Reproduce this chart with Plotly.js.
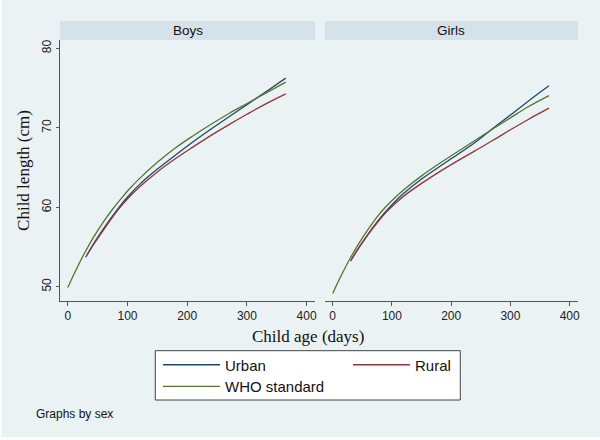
<!DOCTYPE html>
<html>
<head>
<meta charset="utf-8">
<script src="https://cdn.plot.ly/plotly-3.0.1.min.js"></script>
<style>html,body{margin:0;padding:0;background:#fff;}#chart{width:600px;height:440px;}</style>
</head>
<body>
<div id="chart"></div>
<script>
// ---- data ----
const whoAge      = [0, 15, 30, 45, 60, 75, 90, 105, 120, 150, 180, 210, 240, 270, 300, 330, 365];
const boysWHO     = [49.9, 52.3, 54.5, 56.45, 58.2, 59.75, 61.15, 62.45, 63.6, 65.65, 67.45, 69.0, 70.45, 71.8, 73.05, 74.3, 75.74];
const girlsWHO    = [49.15, 51.5, 53.65, 55.55, 57.25, 58.8, 60.1, 61.2, 62.2, 63.95, 65.5, 66.95, 68.4, 69.85, 71.25, 72.65, 74.05];

const boysUrbanAge  = [30, 45, 60, 75, 90, 105, 120, 150, 180, 210, 240, 270, 300, 330, 365];
const boysUrban     = [53.7, 55.6, 57.3, 58.9, 60.4, 61.7, 62.85, 64.8, 66.55, 68.25, 69.85, 71.4, 72.9, 74.45, 76.25];
const boysRuralAge  = [33, 45, 60, 75, 90, 105, 120, 150, 180, 210, 240, 270, 300, 330, 365];
const boysRural     = [54.1, 55.5, 57.15, 58.75, 60.2, 61.45, 62.55, 64.45, 66.1, 67.6, 69.05, 70.4, 71.7, 72.95, 74.27];

const girlsUrbanAge = [30, 45, 60, 75, 90, 105, 120, 150, 180, 210, 240, 270, 300, 330, 365];
const girlsUrban    = [53.2, 55.0, 56.65, 58.15, 59.5, 60.7, 61.75, 63.55, 65.1, 66.6, 68.15, 69.9, 71.6, 73.35, 75.28];
const girlsRuralAge = [32, 45, 60, 75, 90, 105, 120, 150, 180, 210, 240, 270, 300, 330, 365];
const girlsRural    = [53.5, 55.0, 56.6, 58.05, 59.35, 60.45, 61.4, 63.0, 64.45, 65.8, 67.1, 68.4, 69.75, 71.05, 72.47];

const panelLabels = ["Boys", "Girls"];
const seriesNames = ["Urban", "Rural", "WHO standard"];
const xTicks = [0, 100, 200, 300, 400];
const yTicks = [50, 60, 70, 80];

// ---- style ----
const colUrban = "#1a476f", colRural = "#90353b", colWHO = "#55752f";
const bg = "#eaf2f3", strip = "#d6e2e9";
const W = 600, H = 440;
const px = v => v / W, py = v => 1 - v / H;
const sans = "Liberation Sans, Arial, sans-serif";
const serif = "Liberation Serif, Times New Roman, serif";
const lw = 1.3;

function line(x, y, name, color, xa, ya, legend, show) {
  return {x: x, y: y, name: name, type: "scatter", mode: "lines",
          line: {color: color, width: lw, shape: "spline", smoothing: 1},
          xaxis: xa, yaxis: ya, legend: legend, showlegend: show, hoverinfo: "skip"};
}

const traces = [
  line(boysUrbanAge, boysUrban, seriesNames[0], colUrban, "x", "y", "legend", true),
  line(boysRuralAge, boysRural, seriesNames[1], colRural, "x", "y", "legend2", true),
  line(whoAge, boysWHO, seriesNames[2], colWHO, "x", "y", "legend3", true),
  line(girlsUrbanAge, girlsUrban, seriesNames[0], colUrban, "x2", "y2", "legend", false),
  line(girlsRuralAge, girlsRural, seriesNames[1], colRural, "x2", "y2", "legend2", false),
  line(whoAge, girlsWHO, seriesNames[2], colWHO, "x2", "y2", "legend3", false)
];

const xRange = [-13, 414], yRange = [48.2, 81.05];
const yDom = [py(301), py(40)];
const xBase = {
  range: xRange, tickvals: xTicks, ticktext: xTicks.map(String),
  showgrid: false, zeroline: false, showline: true, linecolor: "#555", linewidth: 1,
  ticks: "outside", ticklen: 4, tickcolor: "#555",
  tickfont: {family: sans, size: 12, color: "#222"}, fixedrange: true
};
const yBase = {
  range: yRange, tickvals: yTicks, ticktext: yTicks.map(String),
  showgrid: true, gridcolor: bg, gridwidth: 1, zeroline: false, fixedrange: true
};

const legendBase = {bgcolor: "rgba(0,0,0,0)", borderwidth: 0, orientation: "v",
  font: {family: sans, size: 15, color: "#111"}, itemwidth: 57, xanchor: "left", yanchor: "middle",
  itemclick: false, itemdoubleclick: false};

const layout = {
  width: W, height: H,
  margin: {l: 0, r: 0, t: 0, b: 0},
  paper_bgcolor: "#ffffff", plot_bgcolor: "#ffffff",
  xaxis: Object.assign({}, xBase, {domain: [px(60), px(315)], anchor: "y"}),
  xaxis2: Object.assign({}, xBase, {domain: [px(325), px(578)], anchor: "y2"}),
  yaxis: Object.assign({}, yBase, {domain: yDom, anchor: "x", showline: true, linecolor: "#555", linewidth: 1,
    ticks: "outside", ticklen: 3, tickcolor: "#555", tickangle: -90,
    tickfont: {family: sans, size: 12, color: "#222"},
    title: {text: "Child length (cm)", font: {family: serif, size: 17, color: "#111"}, standoff: 6}}),
  yaxis2: Object.assign({}, yBase, {domain: yDom, anchor: "x2", showticklabels: false, showline: false, ticks: ""}),
  legend: Object.assign({}, legendBase, {x: px(158), y: py(365)}),
  legend2: Object.assign({}, legendBase, {x: px(348), y: py(365)}),
  legend3: Object.assign({}, legendBase, {x: px(158), y: py(386.7)}),
  shapes: [
    {type: "rect", xref: "paper", yref: "paper", x0: px(1.5), x1: 1, y0: py(437), y1: 1,
     fillcolor: bg, line: {width: 0}, layer: "below"},
    {type: "rect", xref: "paper", yref: "paper", x0: px(60), x1: px(315), y0: py(40), y1: py(21),
     fillcolor: strip, line: {width: 0}, layer: "below"},
    {type: "rect", xref: "paper", yref: "paper", x0: px(325), x1: px(578), y0: py(40), y1: py(21),
     fillcolor: strip, line: {width: 0}, layer: "below"},
    {type: "rect", xref: "paper", yref: "paper", x0: px(155.3), x1: px(460.3), y0: py(400), y1: py(350.7),
     fillcolor: "#ffffff", line: {width: 1, color: "#444"}, layer: "below"}
  ],
  annotations: [
    {text: panelLabels[0], xref: "paper", yref: "paper", x: px(187.5), y: py(30.5), showarrow: false,
     font: {family: sans, size: 13.5, color: "#111"}, xanchor: "center", yanchor: "middle"},
    {text: panelLabels[1], xref: "paper", yref: "paper", x: px(451.5), y: py(30.5), showarrow: false,
     font: {family: sans, size: 13.5, color: "#111"}, xanchor: "center", yanchor: "middle"},
    {text: "Child age (days)", xref: "paper", yref: "paper", x: px(308), y: py(336.5), showarrow: false,
     font: {family: serif, size: 17, color: "#111"}, xanchor: "center", yanchor: "middle"},
    {text: "Graphs by sex", xref: "paper", yref: "paper", x: px(34), y: py(413.5), showarrow: false,
     font: {family: sans, size: 12, color: "#111"}, xanchor: "left", yanchor: "middle"}
  ]
};

Plotly.newPlot("chart", traces, layout, {displayModeBar: false, staticPlot: true});
</script>
</body>
</html>
